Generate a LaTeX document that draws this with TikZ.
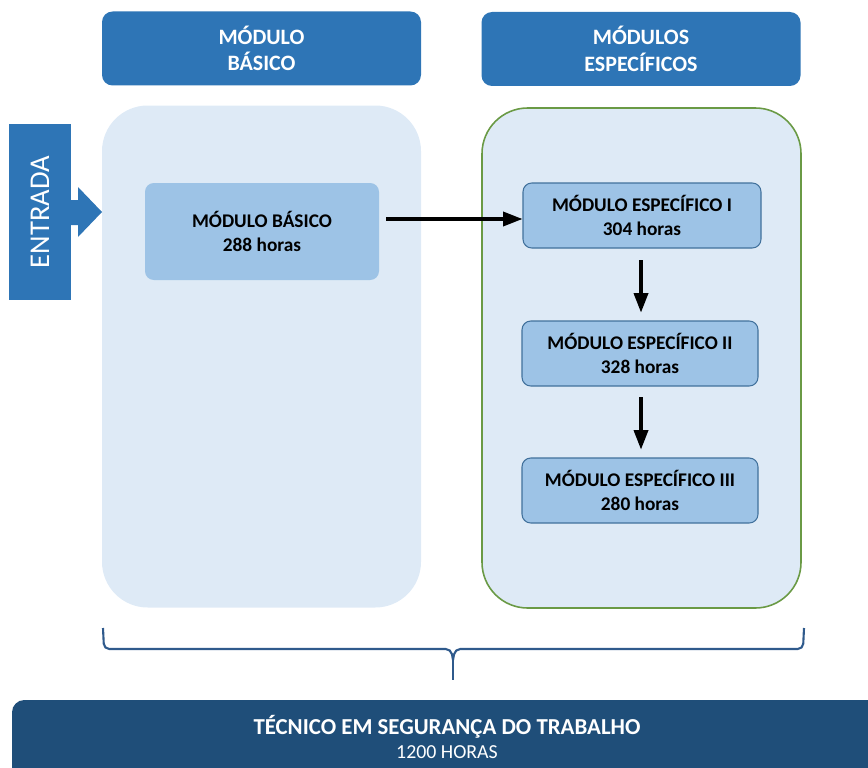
\documentclass[tikz,border=0pt]{standalone}
\usepackage{fontspec}
\setmainfont{Carlito}
\usetikzlibrary{arrows.meta,positioning}

\definecolor{headblue}{HTML}{2E75B6}
\definecolor{panelblue}{HTML}{DEEAF6}
\definecolor{boxblue}{HTML}{9DC3E6}
\definecolor{boxedge}{HTML}{41719C}
\definecolor{panelgreen}{HTML}{6A9A45}
\definecolor{darkbar}{HTML}{1F4E79}
\definecolor{bracecol}{HTML}{2F5A8C}

\begin{document}
\begin{tikzpicture}[x=0.02cm,y=-0.02cm]
\tikzset{
  header/.style={rectangle,rounded corners=6pt,fill=headblue,text=white,align=center,
    minimum width=319*0.02cm,minimum height=74*0.02cm,font=\fontsize{12.5}{15}\selectfont\bfseries},
  panel/.style={rectangle,rounded corners=26pt,fill=panelblue,minimum width=319*0.02cm,minimum height=502*0.02cm},
  modbox/.style={rectangle,rounded corners=5pt,fill=boxblue,draw=boxedge,line width=0.6pt,align=center,
    minimum height=65*0.02cm,font=\fontsize{11}{13.6}\selectfont\bfseries},
  flow/.style={-{Triangle[length=11pt,width=8pt]},line width=1.8pt}
}
\useasboundingbox (0,0) rectangle (868,767);
% headers
\node[header] (h_basic) at (261.5,48.5) {MÓDULO\\BÁSICO};
\node[header] (h_spec) at (641,49) {MÓDULOS\\ESPECÍFICOS};
% panels
\node[panel] (p_basic) at (261.5,356.5) {};
\node[panel,draw=panelgreen,line width=0.9pt,minimum height=500*0.02cm] (p_spec) at (641.5,358) {};
% entrada
\fill[headblue] (9,124) rectangle (71,300);
\fill[headblue] (70,200) -- (78,200) -- (78,187) -- (102,212) -- (78,237) -- (78,225) -- (70,225) -- cycle;
\node[rotate=90,text=white,font=\fontsize{16.3}{18}\selectfont] (entrada) at (40,212) {ENTRADA};
% modules
\node[modbox,draw=none,minimum width=234*0.02cm,minimum height=97*0.02cm] (m_basic) at (262,231.5) {MÓDULO BÁSICO\\288 horas};
\node[modbox,minimum width=238*0.02cm] (m_spec1) at (642,215.5) {MÓDULO ESPECÍFICO I\\304 horas};
\node[modbox,minimum width=236*0.02cm] (m_spec2) at (640,353.5) {MÓDULO ESPECÍFICO II\\328 horas};
\node[modbox,minimum width=236*0.02cm] (m_spec3) at (640,490.5) {MÓDULO ESPECÍFICO III\\280 horas};
\coordinate (a_from) at (386,219);
\coordinate (a1_from) at (641,260);
\coordinate (a2_from) at (641,397);
\draw[flow] (a_from) -- (a_from -| m_spec1.west);
\draw[flow,shorten >=4.5pt] (a1_from) -- (a1_from |- m_spec2.north);
\draw[flow,shorten >=4.5pt] (a2_from) -- (a2_from |- m_spec3.north);
% brace
\draw[bracecol,line width=1.2pt,rounded corners=3pt] (103,628) -- (104,649) -- (451,649) -- (453,660);
\draw[bracecol,line width=1.2pt,rounded corners=3pt] (804,628) -- (803,649) -- (455,649) -- (453,660);
\draw[bracecol,line width=1.2pt] (453,655) -- (453,680);
% total
\fill[darkbar,rounded corners=7pt] (12,790) -- (12,700) -- (890,700) -- (890,790) -- cycle;
\node[text=white,align=center,font=\fontsize{13}{13.6}\selectfont] (total) at (447,737)
  {\textbf{TÉCNICO EM SEGURANÇA DO TRABALHO}\\\fontsize{11.3}{13.6}\selectfont 1200 HORAS};
\end{tikzpicture}
\end{document}
